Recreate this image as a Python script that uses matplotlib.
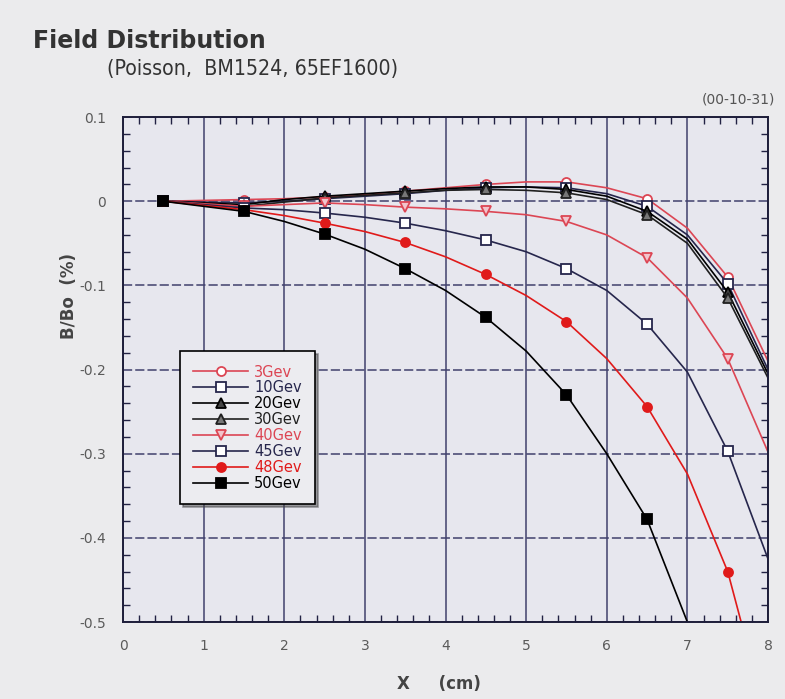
import numpy as np
import matplotlib.pyplot as plt
from matplotlib.ticker import MultipleLocator

# posicoes ao longo de X (cm); marcadores so nos meios (0.5, 1.5, ...)
x = [0.5, 1.0, 1.5, 2.0, 2.5, 3.0, 3.5, 4.0, 4.5, 5.0, 5.5, 6.0, 6.5, 7.0, 7.5, 8.0]

# B/Bo (%) para cada energia
b_3gev = [0, 0.001, 0.002, 0.003, 0.005, 0.008, 0.012, 0.016, 0.020, 0.023, 0.023, 0.016, 0.003, -0.032, -0.090, -0.190]
b_10gev = [0, -0.001, -0.002, 0.000, 0.003, 0.006, 0.009, 0.013, 0.016, 0.017, 0.016, 0.009, -0.006, -0.040, -0.098, -0.200]
b_20gev = [0, -0.002, -0.004, 0.002, 0.006, 0.009, 0.012, 0.015, 0.017, 0.017, 0.014, 0.006, -0.012, -0.045, -0.108, -0.205]
b_30gev = [0, -0.003, -0.006, -0.001, 0.004, 0.007, 0.010, 0.013, 0.014, 0.013, 0.010, 0.002, -0.016, -0.050, -0.115, -0.210]
b_40gev = [0, -0.003, -0.006, -0.004, -0.002, -0.004, -0.007, -0.009, -0.012, -0.016, -0.024, -0.040, -0.067, -0.115, -0.187, -0.298]
b_45gev = [0, -0.004, -0.008, -0.010, -0.014, -0.019, -0.026, -0.035, -0.046, -0.060, -0.080, -0.106, -0.146, -0.203, -0.297, -0.425]
b_48gev = [0, -0.005, -0.010, -0.017, -0.026, -0.036, -0.049, -0.066, -0.087, -0.112, -0.143, -0.187, -0.244, -0.324, -0.440, -0.620]
b_50gev = [0, -0.006, -0.012, -0.024, -0.039, -0.057, -0.080, -0.106, -0.138, -0.178, -0.230, -0.300, -0.378, -0.500, -0.660, -0.880]

labels = ['3Gev', '10Gev', '20Gev', '30Gev', '40Gev', '45Gev', '48Gev', '50Gev']
series = [b_3gev, b_10gev, b_20gev, b_30gev, b_40gev, b_45gev, b_48gev, b_50gev]
ytick_labels = ['-0.5', '-0.4', '-0.3', '-0.2', '-0.1', '0', '0.1']

red = '#dc4654'
navy = '#26264c'
cores = [red, navy, 'black', '#202020', red, navy, '#e01a1a', 'black']
marcas = ['o', 's', '^', '^', 'v', 's', 'o', 's']
preench = ['white', 'white', '#444444', '#777777', '#f2c4cc', 'white', '#e01a1a', 'black']

fig = plt.figure(figsize=(7.85, 6.99), dpi=100, facecolor='#ebebed')
ax = fig.add_axes([0.1567, 0.110, 0.8217, 0.7225])
ax.set_facecolor('#e7e7ee')

for yv, lab, c, m, fc in zip(series, labels, cores, marcas, preench):
    ax.plot(x, yv, color=c, lw=1.2, marker=m, markevery=2, markersize=6.5,
            markerfacecolor=fc, markeredgecolor=c, markeredgewidth=1.3, label=lab)

ax.set_xlim(0, 8)
ax.set_ylim(-0.5, 0.1)
ax.xaxis.set_major_locator(MultipleLocator(1))
ax.xaxis.set_minor_locator(MultipleLocator(0.2))
ax.yaxis.set_minor_locator(MultipleLocator(0.02))
ax.set_yticks(np.arange(-0.5, 0.11, 0.1))
ax.set_yticklabels(ytick_labels)
ax.tick_params(which='both', direction='in', top=True, right=True,
               labelsize=10, labelcolor='#5a5a5a', color='#222244')
ax.tick_params(which='major', length=0, pad=12)
ax.tick_params(which='minor', length=5, width=1)

ax.grid(True, axis='x', color='#40406c', lw=1.1)
ax.grid(True, axis='y', color='#40406c', lw=1.1, ls=(0, (6, 2)))
ax.set_axisbelow(True)
for s in ax.spines.values():
    s.set_color('#1e1e3a')
    s.set_linewidth(1.4)

ax.set_xlabel('X     (cm)', fontsize=12, fontweight='bold', color='#444444')
ax.xaxis.set_label_coords(0.49, -0.105)
ax.set_ylabel('B/Bo  (%)', fontsize=12, fontweight='bold', color='#444444')
ax.yaxis.set_label_coords(-0.07, 0.645)

leg = ax.legend(loc='upper left', bbox_to_anchor=(0.088, 0.536), borderaxespad=0,
                fontsize=10.5, labelcolor='linecolor', handlelength=3.8,
                handletextpad=0.4, labelspacing=0.06, borderpad=0.9,
                fancybox=False, shadow=True, edgecolor='black',
                facecolor='#ececf0', framealpha=1)
leg.get_frame().set_linewidth(1.2)

fig.text(0.042, 0.932, 'Field Distribution', fontsize=17, fontweight='bold', color='#333333')
fig.text(0.136, 0.893, '(Poisson,  BM1524, 65EF1600)', fontsize=15.3, color='#333333',
         family='DejaVu Sans', fontstretch='condensed')
fig.text(0.987, 0.852, '(00-10-31)', fontsize=10, color='#555555', ha='right')

fig.savefig('out.png', dpi=100, facecolor=fig.get_facecolor())
